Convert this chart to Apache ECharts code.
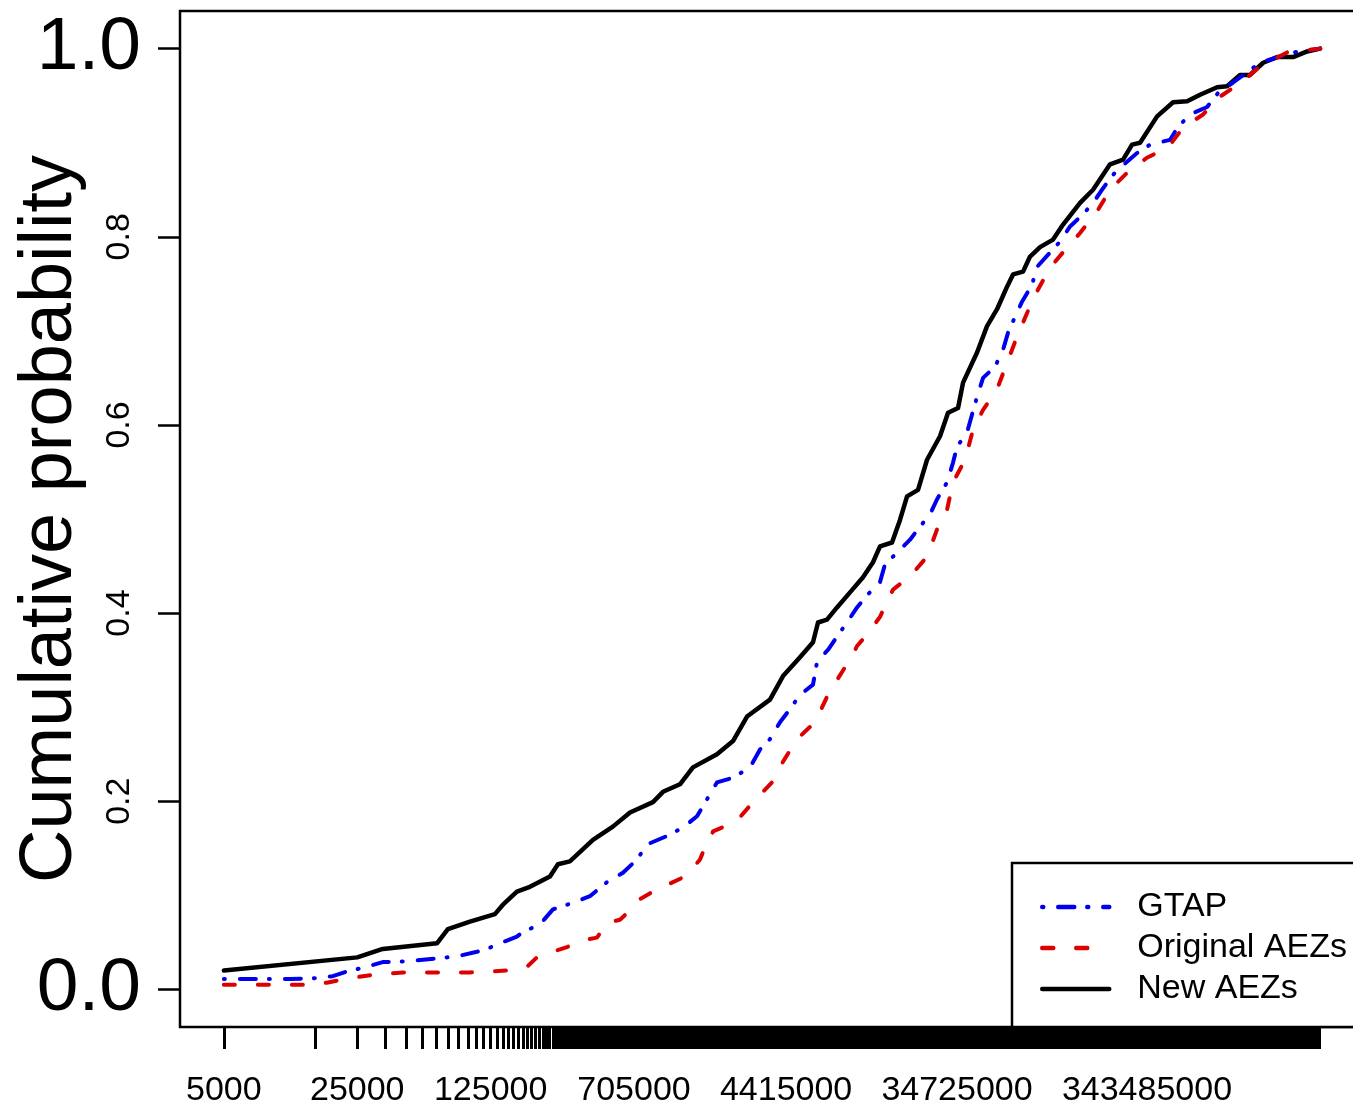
<!DOCTYPE html>
<html>
<head>
<meta charset="utf-8">
<script src="https://cdn.jsdelivr.net/npm/echarts@6/dist/echarts.min.js"></script>
<style>
html, body { margin: 0; padding: 0; background: #ffffff; overflow: hidden; width: 1353px; height: 1111px; }
#chart { width: 1380px; height: 1111px; }
</style>
</head>
<body>
<div id="chart"></div>
<script>
// ---- tick labels ----
const xTickLabels = [5000, 25000, 125000, 705000, 4415000, 34725000, 343485000];
const yTickLabels = [0.2, 0.4, 0.6, 0.8];
const yTickValues = [0.0, 0.2, 0.4, 0.6, 0.8, 1.0];
const yEndLabels = [0.0, 1.0];
const rugStart = 5000;
const rugStep = 10000;

// ---- series names ----
const seriesNames = ['GTAP', 'Original AEZs', 'New AEZs'];

// ---- GTAP (blue, dot-dash) ----
const gtapX = [5000, 11100, 15400, 18600, 22100, 26800, 34000, 47200, 65400, 83200,
  105900, 119500, 139800, 171600, 184500, 226600, 265000, 337400, 414100, 508500,
  616700, 730600, 824000, 1049000, 1273000, 1507000, 1700000, 1918000, 2327000, 2856000,
  3223000, 3635000, 4102000, 4629000, 5222000, 6109000, 6412000, 7321000, 8163000, 9208000,
  10390000, 11870000, 13710000, 14570000, 16840000, 19700000, 22230000, 25070000, 27290000, 30790000,
  33090000, 34730000, 39180000, 41620000, 44210000, 47530000, 54940000, 60500000, 64260000, 69930000,
  76080000, 85860000, 91190000, 104200000, 120400000, 135800000, 158900000, 179200000, 199900000, 225500000,
  257400000, 304900000, 356700000, 453900000, 500000000, 578000000, 709600000, 810500000, 971200000, 1345000000,
  2003000000, 2775000000];
const gtapY = [0.011, 0.011, 0.012, 0.014, 0.019, 0.023, 0.029, 0.030, 0.033, 0.035,
  0.040, 0.043, 0.049, 0.056, 0.061, 0.069, 0.085, 0.092, 0.099, 0.114,
  0.124, 0.138, 0.154, 0.163, 0.172, 0.184, 0.202, 0.220, 0.225, 0.236,
  0.255, 0.266, 0.284, 0.298, 0.313, 0.324, 0.348, 0.361, 0.375, 0.390,
  0.406, 0.420, 0.433, 0.452, 0.464, 0.478, 0.492, 0.505, 0.521, 0.539,
  0.560, 0.577, 0.592, 0.611, 0.630, 0.650, 0.662, 0.680, 0.698, 0.715,
  0.731, 0.749, 0.768, 0.781, 0.795, 0.811, 0.824, 0.836, 0.850, 0.865,
  0.876, 0.889, 0.898, 0.903, 0.917, 0.930, 0.938, 0.953, 0.964, 0.985,
  0.996, 1.000];

// ---- Original AEZs (red, dashed) ----
const origX = [5000, 12970, 17300, 20300, 26800, 31700, 43400, 97400, 152100, 193700,
  218500, 265000, 313800, 399400, 450600, 514600, 595000, 696000, 757300, 886000,
  1000000, 1273000, 1335000, 1563000, 1620000, 1763000, 1828000, 2327000, 2531000, 2961000,
  3725000, 4254000, 5036000, 6258000, 7234000, 8163000, 9781000, 10390000, 11720000, 13710000,
  16040000, 19700000, 24180000, 27290000, 30790000, 33090000, 38240000, 42130000, 47530000, 56280000,
  63500000, 71640000, 80840000, 92290000, 106600000, 127800000, 153200000, 188200000, 220000000, 270100000,
  343000000, 443100000, 531000000, 676000000, 830000000, 1083000000, 1345000000, 1864000000, 2775000000];
const origY = [0.005, 0.005, 0.007, 0.010, 0.014, 0.016, 0.018, 0.018, 0.020, 0.024,
  0.034, 0.040, 0.045, 0.053, 0.055, 0.071, 0.074, 0.087, 0.096, 0.104,
  0.109, 0.119, 0.122, 0.138, 0.146, 0.159, 0.168, 0.177, 0.183, 0.199,
  0.220, 0.242, 0.266, 0.284, 0.311, 0.329, 0.354, 0.365, 0.377, 0.396,
  0.425, 0.439, 0.460, 0.489, 0.510, 0.539, 0.563, 0.595, 0.616, 0.638,
  0.666, 0.694, 0.719, 0.744, 0.767, 0.786, 0.804, 0.827, 0.850, 0.868,
  0.884, 0.895, 0.916, 0.930, 0.949, 0.965, 0.981, 0.996, 1.000];

// ---- New AEZs (black, solid) ----
const newX = [5000, 25000, 34000, 65400, 74600, 97400, 131600, 145000, 171600, 200800,
  255600, 281500, 325000, 429500, 546000, 671500, 886000, 1000000, 1227000, 1435000,
  1918000, 2327000, 2755000, 3635000, 4254000, 5222000, 6109000, 6489000, 7234000, 8163000,
  9548000, 11170000, 12600000, 13710000, 15850000, 17450000, 19000000, 21690000, 24180000, 28280000,
  31150000, 35150000, 37340000, 44210000, 49870000, 56280000, 63500000, 68250000, 77000000, 83800000,
  94550000, 110600000, 124800000, 153200000, 179200000, 220000000, 257400000, 287000000, 316000000, 388000000,
  470700000, 557500000, 652000000, 800500000, 903000000, 1056000000, 1192000000, 1394000000, 1651000000, 2003000000,
  2372000000, 2775000000];
const newY = [0.020, 0.034, 0.043, 0.049, 0.064, 0.072, 0.080, 0.090, 0.104, 0.109,
  0.120, 0.133, 0.136, 0.159, 0.173, 0.188, 0.199, 0.210, 0.218, 0.236,
  0.250, 0.264, 0.290, 0.308, 0.333, 0.353, 0.369, 0.390, 0.393, 0.406,
  0.422, 0.438, 0.454, 0.471, 0.475, 0.499, 0.524, 0.531, 0.563, 0.588,
  0.613, 0.618, 0.645, 0.677, 0.705, 0.723, 0.747, 0.760, 0.763, 0.779,
  0.789, 0.797, 0.813, 0.836, 0.850, 0.877, 0.882, 0.898, 0.900, 0.928,
  0.943, 0.944, 0.951, 0.959, 0.960, 0.972, 0.972, 0.985, 0.991, 0.991,
  0.997, 1.000];

function zip(xs, ys) {
  const n = Math.min(xs.length, ys.length);
  const out = [];
  for (let i = 0; i < n; i++) out.push([xs[i], ys[i]]);
  return out;
}

// axis range: data extent padded by 4% on each side in log space (R default)
const allX = gtapX.concat(origX, newX);
const dataMin = Math.min.apply(null, allX);
const dataMax = Math.max.apply(null, allX);
const lMin = Math.log10(dataMin), lMax = Math.log10(dataMax);
const pad = 0.04 * (lMax - lMin);
const xAxisMin = Math.pow(10, lMin - pad);
const xAxisMax = Math.pow(10, lMax + pad);

// rug of axis ticks at 5000 + k*10000, thinned where they merge into a solid band
const rugTicks = [];
let lastLog = -Infinity;
for (let v = rugStart; v <= dataMax * 1.0001; v += rugStep) {
  const lv = Math.log10(v);
  if (lv - lastLog >= 1 / 220) { rugTicks.push(v); lastLog = lv; }
}

const FONT = 'Liberation Sans';
const chart = echarts.init(document.getElementById('chart'), null, { renderer: 'canvas' });

chart.setOption({
  animation: false,
  backgroundColor: '#ffffff',
  textStyle: { fontFamily: FONT, color: '#000' },
  grid: {
    left: 180, top: 11, width: 1184, height: 1016,
    show: true, borderColor: '#000', borderWidth: 2.5, backgroundColor: 'transparent',
    containLabel: false
  },
  legend: {
    data: seriesNames,
    orient: 'vertical',
    left: 1012, top: 863,
    padding: [27, 20, 21, 28],
    itemWidth: 67, itemHeight: 34, itemGap: 7,
    backgroundColor: '#fff', borderColor: '#000', borderWidth: 2.5, borderRadius: 0,
    itemStyle: { opacity: 0 },
    lineStyle: { width: 4.5 },
    textStyle: { fontSize: 34, color: '#000', fontFamily: FONT, padding: [0, 0, 0, 23] },
    selectedMode: false
  },
  xAxis: {
    type: 'log', logBase: 10,
    min: xAxisMin, max: xAxisMax,
    axisLine: { show: false, onZero: false },
    splitLine: { show: false },
    axisTick: { show: true, customValues: rugTicks, length: 22, lineStyle: { color: '#000', width: 3 } },
    axisLabel: {
      customValues: xTickLabels, fontSize: 34, margin: 47, color: '#000', fontFamily: FONT,
      formatter: function (v) { return String(Math.round(v)); }
    }
  },
  yAxis: [
    {
      type: 'value', min: -0.04, max: 1.04,
      axisLine: { show: false, onZero: false },
      splitLine: { show: false },
      axisTick: { show: true, customValues: yTickValues, length: 22, lineStyle: { color: '#000', width: 2.5 } },
      axisLabel: {
        customValues: yTickLabels, rotate: 90, fontSize: 34, margin: 43, color: '#000', fontFamily: FONT,
        formatter: function (v) { return Number(v).toFixed(1); }
      },
      name: 'Cumulative probability',
      nameLocation: 'middle', nameGap: 92,
      nameTextStyle: { fontSize: 74, color: '#000', fontFamily: FONT }
    },
    {
      type: 'value', min: -0.04, max: 1.04, position: 'left', offset: 0,
      axisLine: { show: false, onZero: false },
      splitLine: { show: false },
      axisTick: { show: false },
      axisLabel: {
        customValues: yEndLabels, fontSize: 75, margin: 39, color: '#000', fontFamily: FONT,
        padding: [5, 0, 0, 0],
        formatter: function (v) { return Number(v).toFixed(1); }
      }
    }
  ],
  series: [
    {
      name: seriesNames[2], type: 'line', data: zip(newX, newY), symbol: 'none',
      lineStyle: { color: '#000000', width: 4.5, type: 'solid', cap: 'round', join: 'round' },
      itemStyle: { color: '#000000' }
    },
    {
      name: seriesNames[0], type: 'line', data: zip(gtapX, gtapY), symbol: 'none',
      lineStyle: { color: '#0000ee', width: 4, type: [1, 15, 16, 13], cap: 'round', join: 'round' },
      itemStyle: { color: '#0000ee' }
    },
    {
      name: seriesNames[1], type: 'line', data: zip(origX, origY), symbol: 'none',
      lineStyle: { color: '#dd0000', width: 4, type: [11, 23], cap: 'round', join: 'round' },
      itemStyle: { color: '#dd0000' }
    }
  ]
});
</script>
</body>
</html>
